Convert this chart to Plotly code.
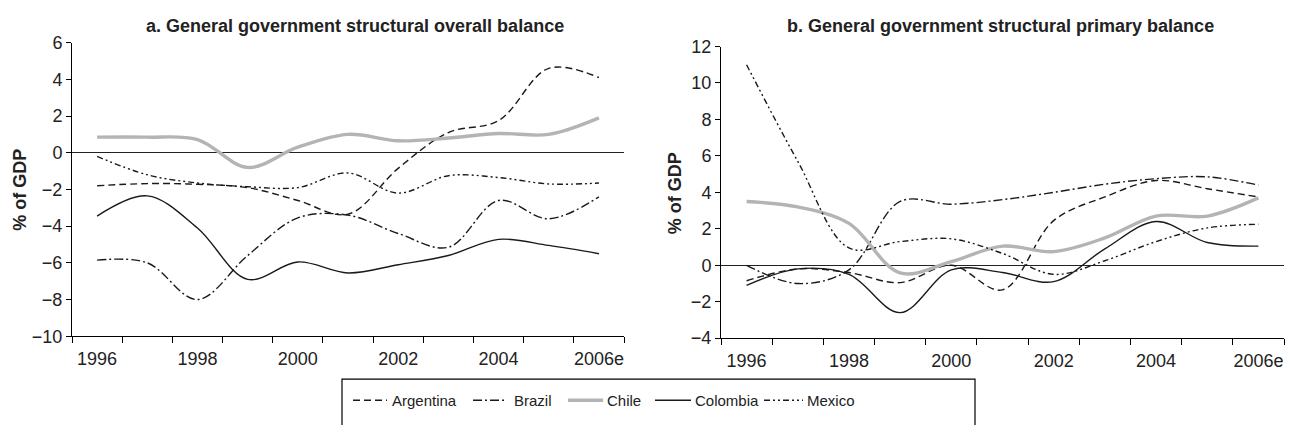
import plotly.graph_objects as go

# Years on the horizontal axis (2006 is an estimate)
years = list(range(1996, 2007))
label_years = [1996, 1998, 2000, 2002, 2004, 2006]
year_labels = ["1996", "1998", "2000", "2002", "2004", "2006e"]

countries = ["Argentina", "Brazil", "Chile", "Colombia", "Mexico"]

# a. Structural overall balance, % of GDP
argentina_overall = [-1.8, -1.68, -1.72, -1.9, -2.6, -3.35, -0.85, 1.1, 1.75, 4.6, 4.1]
brazil_overall = [-5.85, -6.0, -8.0, -5.6, -3.55, -3.4, -4.4, -5.15, -2.6, -3.6, -2.4]
chile_overall = [0.85, 0.85, 0.72, -0.8, 0.3, 1.0, 0.65, 0.8, 1.05, 1.0, 1.9]
colombia_overall = [-3.45, -2.35, -4.1, -6.9, -5.95, -6.55, -6.1, -5.6, -4.72, -5.05, -5.5]
mexico_overall = [-0.2, -1.2, -1.65, -1.85, -1.9, -1.1, -2.2, -1.25, -1.35, -1.7, -1.65]

# b. Structural primary balance, % of GDP
argentina_primary = [-0.85, -0.2, -0.4, -0.95, 0.0, -1.35, 2.45, 3.75, 4.65, 4.2, 3.75]
brazil_primary = [0.0, -1.0, -0.25, 3.5, 3.35, 3.6, 4.0, 4.45, 4.75, 4.85, 4.4]
chile_primary = [3.5, 3.2, 2.3, -0.42, 0.2, 1.05, 0.75, 1.5, 2.7, 2.7, 3.7]
colombia_primary = [-1.1, -0.2, -0.5, -2.6, -0.25, -0.4, -0.9, 0.9, 2.4, 1.25, 1.05]
mexico_primary = [11.0, 5.7, 0.95, 1.3, 1.45, 0.65, -0.5, 0.25, 1.3, 2.05, 2.25]

overall = [argentina_overall, brazil_overall, chile_overall, colombia_overall, mexico_overall]
primary = [argentina_primary, brazil_primary, chile_primary, colombia_primary, mexico_primary]

# Line look for each country
line_styles = {
    "Argentina": dict(color="#1a1a1a", width=1.4, dash="7px,4px"),
    "Brazil": dict(color="#1a1a1a", width=1.4, dash="9px,3px,2px,3px"),
    "Chile": dict(color="#b2b4b6", width=3.4, dash="solid"),
    "Colombia": dict(color="#1a1a1a", width=1.4, dash="solid"),
    "Mexico": dict(color="#1a1a1a", width=1.4, dash="6px,3px,2px,3px,2px,3px"),
}

FONT = "Liberation Sans, Arial, sans-serif"
TXT = "#222222"
W, H = 1294, 435

fig = go.Figure()
for name, ys in zip(countries, overall):
    fig.add_trace(go.Scatter(
        x=years, y=ys, name=name, mode="lines", legendgroup=name,
        line=dict(shape="spline", smoothing=1.0, **line_styles[name]),
        xaxis="x", yaxis="y", showlegend=False,
    ))
for name, ys in zip(countries, primary):
    fig.add_trace(go.Scatter(
        x=years, y=ys, name=name, mode="lines", legendgroup=name,
        line=dict(shape="spline", smoothing=1.0, **line_styles[name]),
        xaxis="x2", yaxis="y2", showlegend=False,
    ))


def xaxis_cfg(domain, anchor):
    return dict(
        domain=domain, anchor=anchor, range=[1995.5, 2006.5],
        tickmode="array", tickvals=label_years, ticktext=year_labels,
        ticks="", ticklabelstandoff=6,
        showline=True, linecolor="black", linewidth=1,
        showgrid=False, zeroline=False,
        tickfont=dict(size=18, color=TXT),
        minor=dict(tick0=1995.5, dtick=1, ticks="outside", ticklen=6,
                   tickcolor="black", tickwidth=1, showgrid=False),
    )


def yaxis_cfg(domain, anchor, rng):
    return dict(
        domain=domain, anchor=anchor, range=rng, tick0=0, dtick=2,
        ticks="outside", ticklen=5, tickcolor="black", tickwidth=1,
        showline=True, linecolor="black", linewidth=1,
        showgrid=False, zeroline=True, zerolinecolor="#222", zerolinewidth=1,
        tickfont=dict(size=18, color=TXT),
    )


fig.update_layout(
    width=W, height=H,
    margin=dict(l=0, r=0, t=0, b=0),
    paper_bgcolor="white", plot_bgcolor="white",
    font=dict(family=FONT, color=TXT),
    xaxis=xaxis_cfg([72 / W, 624 / W], "y"),
    yaxis=yaxis_cfg([1 - 342 / H, 1 - 34.2 / H], "x", [-10, 6]),
    xaxis2=xaxis_cfg([721 / W, 1284 / W], "y2"),
    yaxis2=yaxis_cfg([1 - 344 / H, 1 - 38.3 / H], "x2", [-4, 12]),
    showlegend=False,
)

# Panel titles
titles = [
    ("a. General government structural overall balance", 355),
    ("b. General government structural primary balance", 1000),
]
for text, xc in titles:
    fig.add_annotation(
        text=text, x=xc / W, y=1 - 16.5 / H, xref="paper", yref="paper",
        showarrow=False, xanchor="center", yanchor="middle",
        font=dict(size=18, family=FONT, color=TXT, weight="bold"),
    )

# Vertical axis titles
for xc, yc in [(20, 188.5), (675, 192)]:
    fig.add_annotation(
        text="% of GDP", x=xc / W, y=1 - yc / H, xref="paper", yref="paper",
        showarrow=False, textangle=-90, xanchor="center", yanchor="middle",
        font=dict(size=18, family=FONT, color=TXT, weight="bold"),
    )

# Key frame below the panels: left, top and right sides, running to the page edge
kx0, kx1, ktop = 342 / W, 975 / W, 1 - 387 / H
fig.add_shape(type="path", xref="paper", yref="paper",
              path=f"M {kx0},0 L {kx0},{ktop} L {kx1},{ktop} L {kx1},0",
              line=dict(color="black", width=1.2))

key_y = 409
swatch_x = [(353, 387), (473, 506), (568, 603), (655, 691), (764, 803)]
text_x = [390, 512, 605, 693, 805]
for name, (sx0, sx1), tx in zip(countries, swatch_x, text_x):
    st = line_styles[name]
    fig.add_shape(type="line", xref="paper", yref="paper",
                  x0=sx0 / W, x1=sx1 / W, y0=1 - key_y / H, y1=1 - key_y / H,
                  line=dict(color=st["color"], width=st["width"], dash=st["dash"]))
    fig.add_annotation(
        text=name, x=tx / W, y=1 - key_y / H, xref="paper", yref="paper",
        showarrow=False, xanchor="left", yanchor="middle",
        font=dict(size=15, family=FONT, color=TXT),
    )

fig.write_html("out.html")
